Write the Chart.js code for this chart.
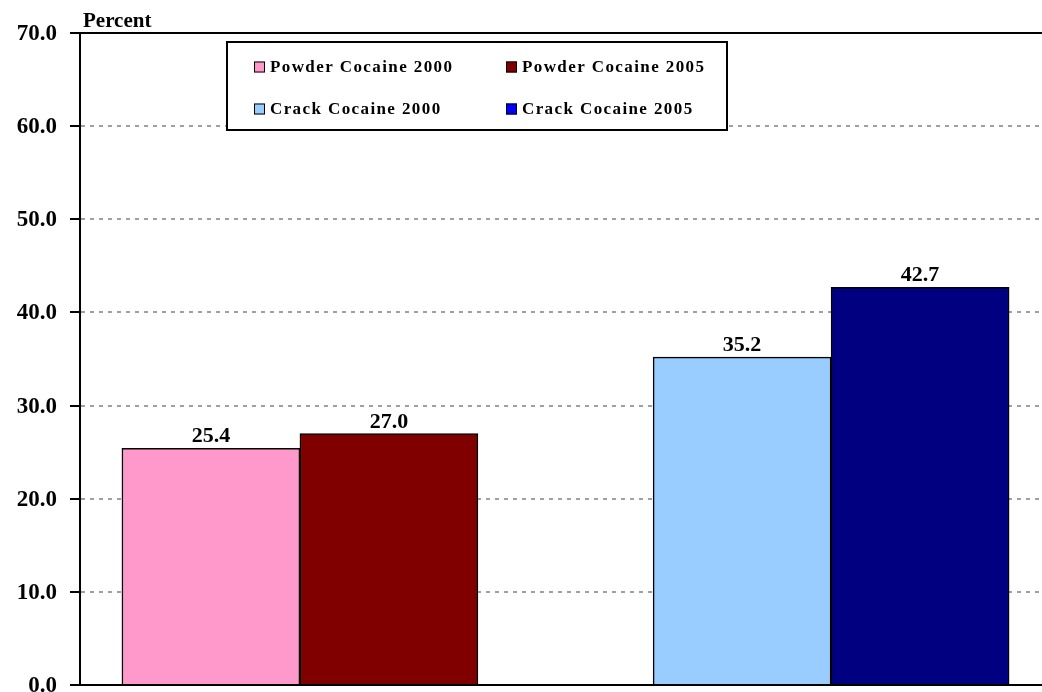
<!DOCTYPE html>
<html>
<head>
<meta charset="utf-8">
<script src="https://cdn.jsdelivr.net/npm/chart.js@4.4.1/dist/chart.umd.min.js"></script>
<style>
  html, body { margin: 0; padding: 0; background: #fff; overflow: hidden; }
  #wrap { width: 1042px; height: 692px; position: relative; }
</style>
</head>
<body>
<div id="wrap"><canvas id="myChart"></canvas></div>
<script>
// groups on the x axis (drawn as positions 1 and 2)
const groups = ['Powder Cocaine', 'Crack Cocaine'];
const seriesNames = ['Powder Cocaine 2000', 'Powder Cocaine 2005', 'Crack Cocaine 2000', 'Crack Cocaine 2005'];
const powder2000 = [25.4, null];
const powder2005 = [27.0, null];
const crack2000 = [null, 35.2];
const crack2005 = [null, 42.7];
const yTicks = [0, 10, 20, 30, 40, 50, 60, 70];

const barColors = ['#FF99CC', '#800000', '#99CCFF', '#000080'];
const legendColors = ['#FF99CC', '#800000', '#99CCFF', '#0000FF'];
const serif = "'Liberation Serif', 'Times New Roman', serif";

chartIt();

function chartIt() {
  const seriesData = [powder2000, powder2005, crack2000, crack2005];
  const datasets = seriesNames.map((name, i) => ({
    label: name,
    data: seriesData[i],
    backgroundColor: barColors[i],
    legendColor: legendColors[i],
    borderColor: '#000',
    borderWidth: 1.5,
    skipNull: true,
    barThickness: 178
  }));

  // value labels above bars
  const valueLabels = {
    id: 'valueLabels',
    afterDatasetsDraw(chart) {
      const ctx = chart.ctx;
      ctx.save();
      ctx.font = 'bold 22px ' + serif;
      ctx.fillStyle = '#000';
      ctx.textAlign = 'center';
      ctx.textBaseline = 'alphabetic';
      chart.data.datasets.forEach((ds, di) => {
        const meta = chart.getDatasetMeta(di);
        meta.data.forEach((bar, j) => {
          const v = ds.data[j];
          if (v === null || v === undefined) return;
          ctx.fillText(v.toFixed(1), bar.x, bar.y - 6);
        });
      });
      ctx.restore();
    }
  };

  // boxed two-column legend + "Percent" caption
  const boxLegend = {
    id: 'boxLegend',
    afterDraw(chart) {
      const ctx = chart.ctx;
      const area = chart.chartArea;
      ctx.save();
      ctx.font = 'bold 21px ' + serif;
      ctx.fillStyle = '#000';
      ctx.textAlign = 'left';
      ctx.textBaseline = 'alphabetic';
      ctx.fillText('Percent', area.left + 3, area.top - 6);

      const bx = area.left + 147, by = area.top + 9, bw = 500, bh = 88;
      ctx.fillStyle = '#fff';
      ctx.fillRect(bx, by, bw, bh);
      ctx.lineWidth = 2;
      ctx.strokeStyle = '#000';
      ctx.strokeRect(bx, by, bw, bh);

      ctx.font = 'bold 17px ' + serif;
      if ('letterSpacing' in ctx) ctx.letterSpacing = '1.4px';
      ctx.textBaseline = 'middle';
      chart.data.datasets.forEach((ds, i) => {
        const col = i % 2, row = Math.floor(i / 2);
        const x = bx + 27 + col * 252;
        const y = by + 25 + row * 42;
        ctx.fillStyle = ds.legendColor;
        ctx.fillRect(x, y - 5.5, 11, 11);
        ctx.lineWidth = 1;
        ctx.strokeStyle = '#000';
        ctx.strokeRect(x + 0.5, y - 5, 10, 10);
        ctx.fillStyle = '#000';
        ctx.fillText(ds.label, x + 16, y + 1);
      });
      ctx.restore();
    }
  };

  const ctx = document.getElementById('myChart').getContext('2d');
  const myChart = new Chart(ctx, {
    type: 'bar',
    data: {
      labels: groups.map((g, i) => i + 1),
      datasets: datasets
    },
    plugins: [valueLabels, boxLegend],
    options: {
      responsive: true,
      maintainAspectRatio: false,
      animation: false,
      layout: { padding: { top: 33, right: 0, bottom: 7, left: 0 } },
      plugins: {
        legend: { display: false },
        title: { display: false },
        tooltip: { enabled: false }
      },
      scales: {
        x: {
          type: 'linear',
          position: 'bottom',
          bounds: 'data',
          offset: false,
          min: 0.586,
          max: 2.397,
          afterBuildTicks(scale) { scale.ticks = [{ value: 1 }, { value: 2 }]; },
          ticks: { display: false },
          grid: { display: false, drawTicks: false },
          border: { display: true, color: '#000', width: 2 },
          afterFit(scale) { scale.height = 0; scale.paddingLeft = 0; scale.paddingRight = 0; }
        },
        xTop: {
          type: 'linear',
          position: 'top',
          offset: false,
          ticks: { display: false },
          grid: { display: false, drawTicks: false },
          border: { display: true, color: '#000', width: 2 },
          afterFit(scale) { scale.height = 0; scale.paddingLeft = 0; scale.paddingRight = 0; }
        },
        y: {
          min: 0,
          max: 70,
          afterBuildTicks(scale) { scale.ticks = yTicks.map(v => ({ value: v })); },
          ticks: {
            color: '#000',
            font: { family: serif, size: 23, weight: 'bold' },
            padding: 13,
            labelOffset: 1,
            callback: v => Number(v).toFixed(1)
          },
          grid: {
            color: c => (c.tick && (c.tick.value === 0 || c.tick.value === 70)) ? 'rgba(0,0,0,0)' : '#a0a0a0',
            lineWidth: 2,
            tickColor: '#000',
            tickLength: 10,
            tickWidth: 2,
            tickBorderDash: []
          },
          border: { display: true, color: '#000', width: 2, dash: [4, 5] },
          afterFit(scale) { scale.width = 80; scale.paddingTop = 0; scale.paddingBottom = 0; }
        }
      }
    }
  });
}
</script>
</body>
</html>
